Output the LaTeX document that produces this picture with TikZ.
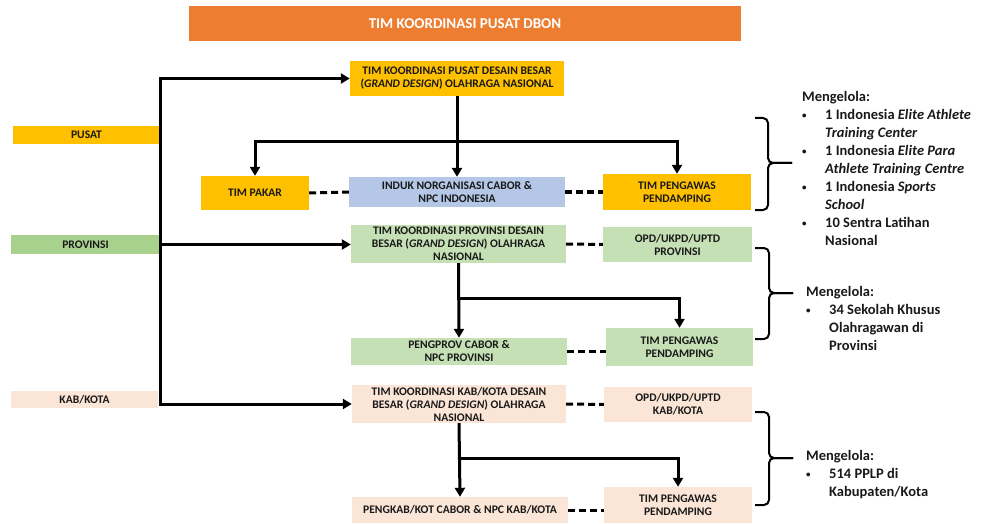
\documentclass[tikz,border=0pt]{standalone}
\usepackage{fontspec}
\setmainfont{Carlito}
\usetikzlibrary{arrows.meta}

\definecolor{dbonorange}{HTML}{ED7D31}
\definecolor{dbonyellow}{HTML}{FFC000}
\definecolor{dbongreen}{HTML}{A9D18E}
\definecolor{dbonlightgreen}{HTML}{C5E0B4}
\definecolor{dbonblue}{HTML}{B4C7E7}
\definecolor{dbonpeach}{HTML}{FBE5D6}

\newcommand{\dbonbullet}{\makebox[23pt][l]{\raisebox{1pt}{\fontsize{9}{9}\selectfont\textbullet}}}

\begin{document}
\begin{tikzpicture}[x=1pt,y=-1pt,
		box_style/.style={rectangle,inner sep=0pt,align=center,text=black!90,font=\bfseries\fontsize{11.6}{13}\selectfont},
		yellow_style/.style={box_style,fill=dbonyellow},
		green_style/.style={box_style,fill=dbongreen},
		lightgreen_style/.style={box_style,fill=dbonlightgreen},
		blue_style/.style={box_style,fill=dbonblue},
		peach_style/.style={box_style,fill=dbonpeach},
		list_style/.style={inner sep=0pt,align=left,text=black!90,font=\bfseries\fontsize{14.5}{18}\selectfont},
		edge_style/.style={draw=black,line width=3pt},
		arrow_style/.style={edge_style,-{Triangle[width=10pt,length=9pt]}},
		dash_style/.style={draw=black,line width=3pt,dash pattern=on 7pt off 4pt},
		brace_style/.style={draw=black,line width=2pt,rounded corners=5pt}]

		\useasboundingbox (0,0) rectangle (983,524);

		% title
		\node[box_style,fill=dbonorange,text=white,font=\bfseries\fontsize{15}{17}\selectfont,minimum width=552,minimum height=35] (title) at (465,23.5) {TIM KOORDINASI PUSAT DBON};

		% levels
		\node[yellow_style,minimum width=147,minimum height=18] (pusat) at (86.5,135) {PUSAT};
		\node[green_style,minimum width=149,minimum height=19] (prov) at (85.5,244.5) {PROVINSI};
		\node[peach_style,minimum width=147,minimum height=17] (kab) at (84.5,399.5) {KAB/KOTA};

		% pusat
		\node[yellow_style,minimum width=214,minimum height=35] (tk_pusat) at (457,78.5) {TIM KOORDINASI PUSAT DESAIN BESAR\\(\textit{GRAND DESIGN}) OLAHRAGA NASIONAL};
		\node[yellow_style,minimum width=108,minimum height=34] (pakar) at (255,193) {TIM PAKAR};
		\node[blue_style,minimum width=216,minimum height=30] (induk) at (457,192) {INDUK NORGANISASI CABOR \&\\NPC INDONESIA};
		\node[yellow_style,minimum width=148,minimum height=36] (awas_pusat) at (677,192) {TIM PENGAWAS\\PENDAMPING};

		% provinsi
		\node[lightgreen_style,minimum width=215,minimum height=38] (tk_prov) at (458.5,244) {TIM KOORDINASI PROVINSI DESAIN\\BESAR (\textit{GRAND DESIGN}) OLAHRAGA\\NASIONAL};
		\node[lightgreen_style,minimum width=149,minimum height=35] (opd_prov) at (677.5,244.5) {OPD/UKPD/UPTD\\PROVINSI};
		\node[lightgreen_style,minimum width=216,minimum height=27] (pengprov) at (459,351.5) {PENGPROV CABOR \&\\NPC PROVINSI};
		\node[lightgreen_style,minimum width=147,minimum height=38] (awas_prov) at (679.5,347) {TIM PENGAWAS\\PENDAMPING};

		% kab/kota
		\node[peach_style,minimum width=214,minimum height=38] (tk_kab) at (459,404) {TIM KOORDINASI KAB/KOTA DESAIN\\BESAR (\textit{GRAND DESIGN}) OLAHRAGA\\NASIONAL};
		\node[peach_style,minimum width=148,minimum height=35] (opd_kab) at (678,404.5) {OPD/UKPD/UPTD\\KAB/KOTA};
		\node[peach_style,minimum width=216,minimum height=26] (pengkab) at (460,510) {PENGKAB/KOT CABOR \& NPC KAB/KOTA};
		\node[peach_style,minimum width=148,minimum height=36] (awas_kab) at (678,505) {TIM PENGAWAS\\PENDAMPING};

		% lists
		\node[list_style,anchor=north west] (list_pusat) at (802,91) {Mengelola:\\
			\dbonbullet 1 Indonesia \textit{Elite Athlete}\\
			\hspace*{23pt}\textit{Training Center}\\
			\dbonbullet 1 Indonesia \textit{Elite Para}\\
			\hspace*{23pt}\textit{Athlete Training Centre}\\
			\dbonbullet 1 Indonesia \textit{Sports}\\
			\hspace*{23pt}\textit{School}\\
			\dbonbullet 10 Sentra Latihan\\
			\hspace*{23pt}Nasional};
		\node[list_style,anchor=north west] (list_prov) at (806,286) {Mengelola:\\
			\dbonbullet 34 Sekolah Khusus\\
			\hspace*{23pt}Olahragawan di\\
			\hspace*{23pt}Provinsi};
		\node[list_style,anchor=north west] (list_kab) at (806,450) {Mengelola:\\
			\dbonbullet 514 PPLP di\\
			\hspace*{23pt}Kabupaten/Kota};

		\coordinate (split_pusat) at (457,142);
		\coordinate (split_prov) at (459,298);
		\coordinate (split_kab) at (459,458);

		% connectors
		\draw[arrow_style] (pusat.east) |- (tk_pusat.west);
		\draw[arrow_style] (pusat.east) |- (tk_kab.west);
		\draw[arrow_style] (prov.east) -- (prov.east -| tk_prov.west);

		\draw[arrow_style] (tk_pusat.south) -- (induk.north);
		\draw[arrow_style] (split_pusat) -| (pakar.north);
		\draw[arrow_style] (split_pusat) -| (awas_pusat.north);
		\draw[dash_style] (pakar.east) -- (induk.west);
		\draw[dash_style] (induk.east) -- (awas_pusat.west);

		\draw[arrow_style] (tk_prov.south) -- (pengprov.north);
		\draw[arrow_style] (split_prov) -| (awas_prov.north);
		\draw[dash_style] (tk_prov.east) -- (opd_prov.west);
		\draw[dash_style] (pengprov.east) -- (pengprov.east -| awas_prov.west);

		\draw[arrow_style] (tk_kab.south) -- (pengkab.north);
		\draw[arrow_style] (split_kab) -| (awas_kab.north);
		\draw[dash_style] (tk_kab.east) -- (opd_kab.west);
		\draw[dash_style] (pengkab.east) -- (pengkab.east -| awas_kab.west);

		% braces
		\draw[brace_style] (755,118) -| (768,163) -- (792,163);
		\draw[brace_style] (755,210) -| (768,163) -- (792,163);
		\draw[brace_style] (755,248) -| (769,293) -- (793,293);
		\draw[brace_style] (755,339) -| (769,293) -- (793,293);
		\draw[brace_style] (755,412) -| (769,458) -- (793,458);
		\draw[brace_style] (755,505) -| (769,458) -- (793,458);

	\end{tikzpicture}
\end{document}
